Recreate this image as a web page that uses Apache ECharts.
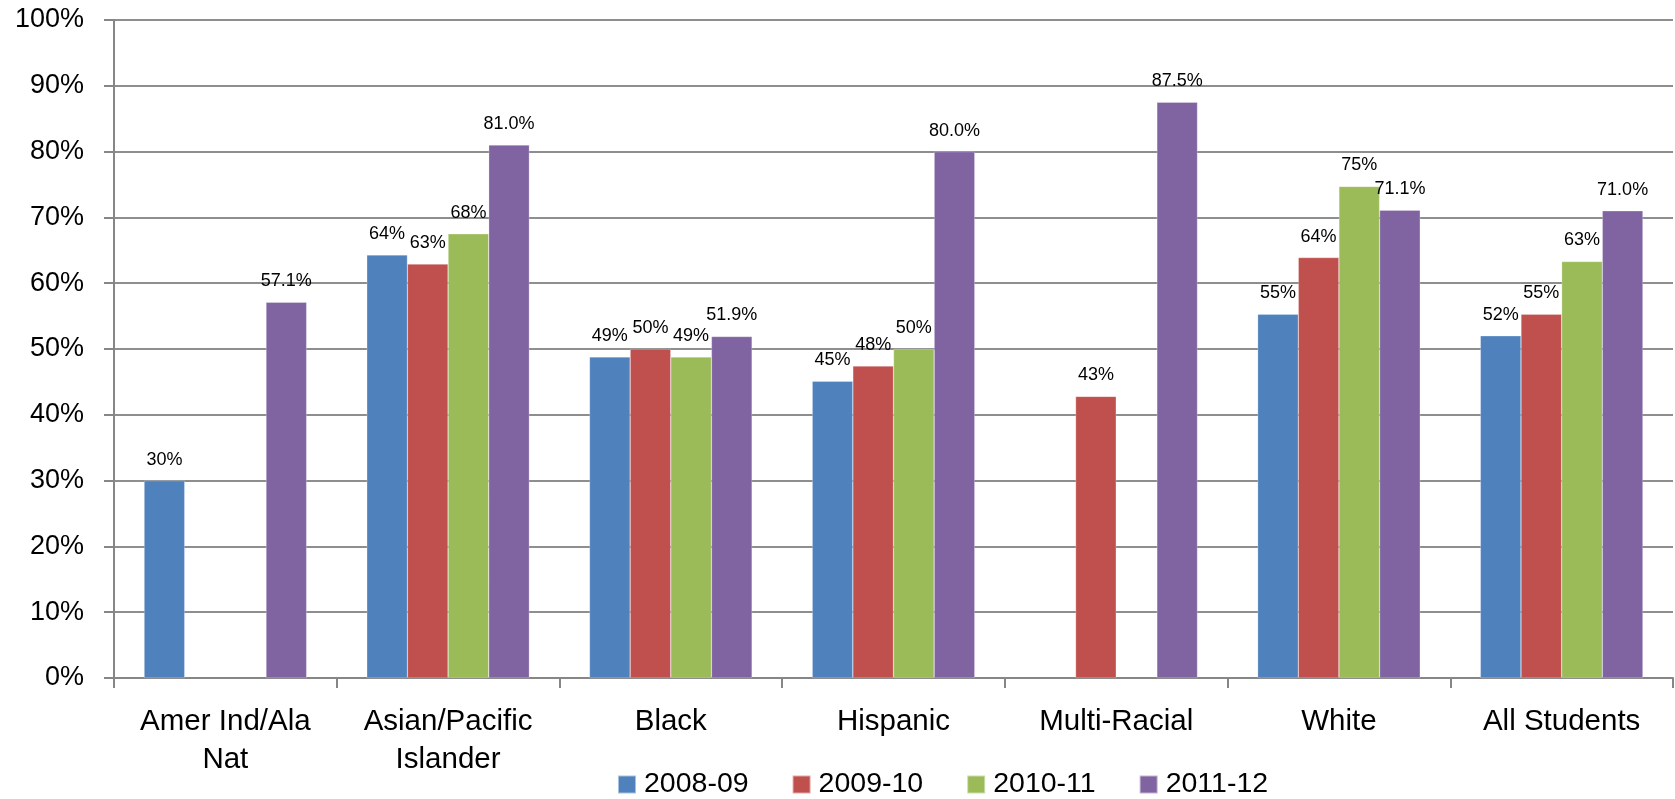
<!DOCTYPE html>
<html>
<head>
<meta charset="utf-8">
<script src="https://cdn.jsdelivr.net/npm/echarts@6/dist/echarts.min.js"></script>
<style>html,body{margin:0;padding:0;background:#fff;}#c{width:1675px;height:799px;}</style>
</head>
<body>
<div id="c"></div>
<script>
const categories = ['Amer Ind/Ala\nNat', 'Asian/Pacific\nIslander', 'Black', 'Hispanic', 'Multi-Racial', 'White', 'All Students'];
const seriesNames = ['2008-09', '2009-10', '2010-11', '2011-12'];
const v2008 = [30.0, 64.3, 48.8, 45.1, null, 55.3, 52.0];
const v2009 = [null, 62.9, 50.0, 47.4, 42.8, 63.9, 55.3];
const v2010 = [null, 67.5, 48.8, 50.0, null, 74.7, 63.3];
const v2011 = [57.1, 81.0, 51.9, 80.0, 87.5, 71.1, 71.0];
const l2008 = ['30%', '64%', '49%', '45%', '', '55%', '52%'];
const l2009 = ['', '63%', '50%', '48%', '43%', '64%', '55%'];
const l2010 = ['', '68%', '49%', '50%', '', '75%', '63%'];
const l2011 = ['57.1%', '81.0%', '51.9%', '80.0%', '87.5%', '71.1%', '71.0%'];
const yTicks = [0, 10, 20, 30, 40, 50, 60, 70, 80, 90, 100];

const colors = ['#4F81BD', '#C0504D', '#9BBB59', '#8064A2'];
const values = [v2008, v2009, v2010, v2011];
const labels = [l2008, l2009, l2010, l2011];
const font = "'Liberation Sans', Arial, sans-serif";

const chart = echarts.init(document.getElementById('c'), null, {renderer: 'canvas'});
chart.setOption({
  animation: false,
  backgroundColor: '#fff',
  color: colors,
  textStyle: {fontFamily: font},
  grid: {left: 114, right: 2, top: 20, bottom: 121, containLabel: false},
  legend: {
    data: seriesNames,
    left: 617, top: 770, padding: 0,
    itemWidth: 18, itemHeight: 18, itemGap: 43,
    icon: 'rect',
    textStyle: {fontSize: 28.5, color: '#000', fontFamily: font, padding: [0, 0, 0, 3]}
  },
  xAxis: {
    type: 'category',
    data: categories,
    axisLine: {lineStyle: {color: '#868686', width: 2}},
    axisTick: {show: true, length: 10, lineStyle: {color: '#868686', width: 2}},
    axisLabel: {interval: 0, fontSize: 29.5, color: '#000', margin: 25, lineHeight: 38, fontFamily: font}
  },
  yAxis: {
    type: 'value',
    min: yTicks[0], max: yTicks[yTicks.length - 1], interval: 10,
    axisLine: {show: true, lineStyle: {color: '#868686', width: 2}},
    axisTick: {show: true, length: 10, lineStyle: {color: '#868686', width: 2}},
    splitLine: {lineStyle: {color: '#8e8e8e', width: 2}},
    axisLabel: {fontSize: 27, color: '#000', margin: 30, fontFamily: font, formatter: '{value}%'}
  },
  series: seriesNames.map((n, i) => ({
    name: n,
    type: 'bar',
    data: values[i],
    barGap: '0%',
    barCategoryGap: '27%',
    itemStyle: {color: colors[i], borderColor: 'rgba(255,255,255,0.5)', borderWidth: 0.5},
    label: {
      show: true, position: 'top', distance: 12,
      fontSize: 18, color: '#000', fontFamily: font,
      formatter: p => labels[i][p.dataIndex]
    }
  }))
});
</script>
</body>
</html>
